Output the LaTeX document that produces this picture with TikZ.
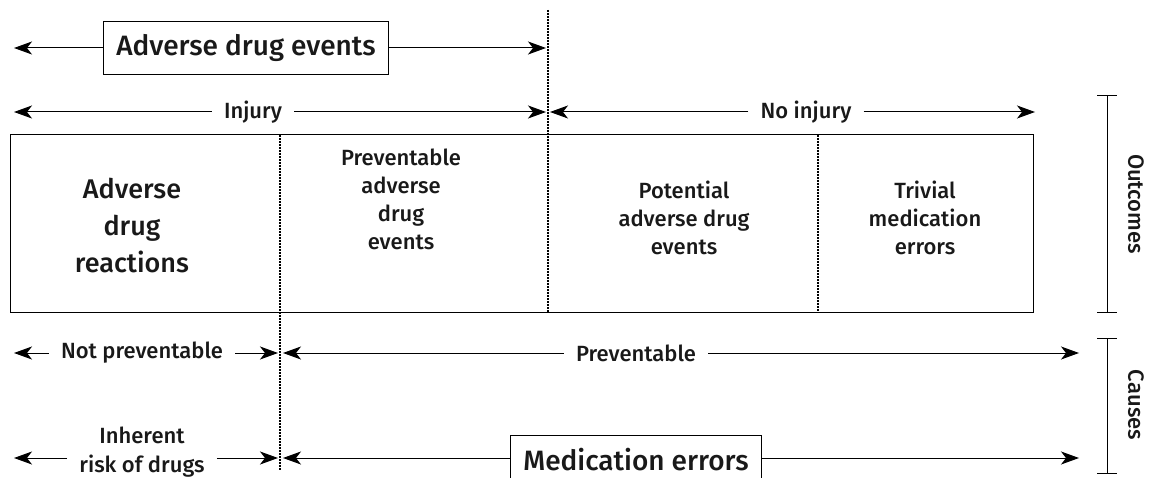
\documentclass[tikz,border=0pt]{standalone}
\usepackage{fontspec}
\setmainfont{Fira Sans}[UprightFont=* Medium]
\usetikzlibrary{arrows.meta, positioning}

\begin{document}
\begin{tikzpicture}[
    x=1pt, y=-1pt,
    every node/.style={font=\fontsize{22}{28}\selectfont, align=center, inner xsep=12pt, inner ysep=2pt, text=black!90},
    arrow/.style={-{Stealth[length=18pt, width=13pt, inset=5pt]}, line width=1pt},
    divider/.style={line width=2.6pt, dash pattern=on 2pt off 1pt},
    titlebox/.style={draw, line width=1pt, font=\fontsize{28}{32}\selectfont, inner xsep=13pt, inner ysep=13pt},
    cell/.style={font=\fontsize{22}{28}\selectfont},
    bigcell/.style={font=\fontsize{27}{37}\selectfont},
    side/.style={rotate=-90, font=\fontsize{22}{26}\selectfont}
]
\useasboundingbox (0,0) rectangle (1153,478);

% end points of the arrows
\coordinate (adeL) at (14,48);   \coordinate (adeR) at (546,48);
\coordinate (injL) at (14,112);  \coordinate (injR) at (546,112);
\coordinate (noL) at (550,112);  \coordinate (noR) at (1035,112);
\coordinate (npL) at (14,353);   \coordinate (npR) at (278,353);
\coordinate (pvL) at (283,353);  \coordinate (pvR) at (1079,353);
\coordinate (irL) at (14,458);   \coordinate (irR) at (278,458);
\coordinate (meL) at (283,458);  \coordinate (meR) at (1079,458);

% top labels
\node[titlebox] (ade) at (246,48) {Adverse drug events};
\node (injury) at (253,112) {Injury};
\node (noinjury) at (806,112) {No injury};

\draw[arrow] (ade.west) -- (adeL);
\draw[arrow] (ade.east) -- (adeR);
\draw[arrow] (injury.west) -- (injL);
\draw[arrow] (injury.east) -- (injR);
\draw[arrow] (noinjury.west) -- (noL);
\draw[arrow] (noinjury.east) -- (noR);

% outcome frame and cells
\node[draw, line width=1pt, minimum width=1023pt, minimum height=177pt, inner sep=0pt] (frame) at (521.5,223.5) {};
\node[bigcell] (adr) at (132,226) {Adverse\\drug\\reactions};
\node[cell] (padr) at (401,199) {Preventable\\adverse\\drug\\events};
\node[cell] (potade) at (684,218) {Potential\\adverse drug\\events};
\node[cell] (trivial) at (925,218) {Trivial\\medication\\errors};

\coordinate (d1t) at (280,135);  \coordinate (d1b) at (280,470);
\coordinate (d2t) at (548,10);   \coordinate (d2b) at (548,312);
\coordinate (d3t) at (818,135);  \coordinate (d3b) at (818,312);
\draw[divider] (d1t) -- (d1b);
\draw[divider] (d2t) -- (d2b);
\draw[divider] (d3t) -- (d3b);

% causes
\node (notprev) at (142,353) {Not preventable};
\node (prev) at (636,353) {Preventable};
\node[inner ysep=0pt, font=\fontsize{22}{29}\selectfont] (inherent) at (142,452) {Inherent\\risk of drugs};
\node[titlebox] (mederr) at (636,460) {Medication errors};

\draw[arrow] (notprev.west) -- (npL);
\draw[arrow] (notprev.east) -- (npR);
\draw[arrow] (prev.west) -- (pvL);
\draw[arrow] (prev.east) -- (pvR);
\draw[arrow] (inherent.west |- irL) -- (irL);
\draw[arrow] (inherent.east |- irR) -- (irR);
\draw[arrow] (mederr.west |- meL) -- (meL);
\draw[arrow] (mederr.east |- meR) -- (meR);

% brackets on the right
\coordinate (ot) at (1107,96);   \coordinate (ob) at (1107,312);
\coordinate (ct) at (1107,338);  \coordinate (cb) at (1107,473);
\draw[line width=1pt] (ot) -- (ob);
\draw[line width=1pt] ([xshift=-10pt]ot) -- ([xshift=10pt]ot);
\draw[line width=1pt] ([xshift=-10pt]ob) -- ([xshift=10pt]ob);
\draw[line width=1pt] (ct) -- (cb);
\draw[line width=1pt] ([xshift=-10pt]ct) -- ([xshift=10pt]ct);
\draw[line width=1pt] ([xshift=-10pt]cb) -- ([xshift=10pt]cb);
\node[side] (outcomes) at (1136,204) {Outcomes};
\node[side] (causes) at (1136,405) {Causes};
\end{tikzpicture}
\end{document}
